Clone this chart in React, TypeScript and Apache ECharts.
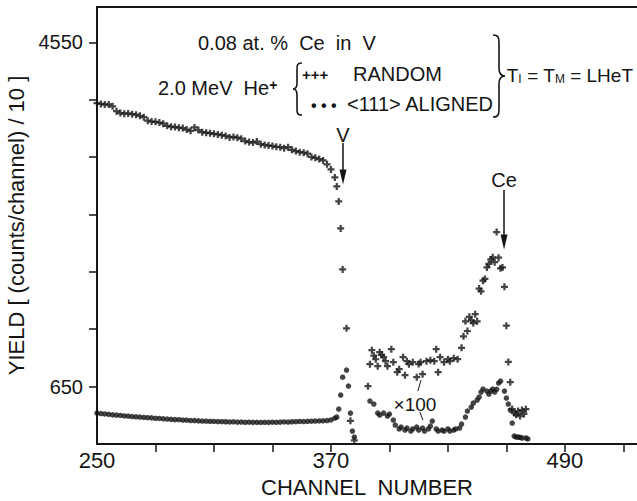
import { useEffect, useRef } from 'react';
import * as echarts from 'echarts';

const FONT = '"Liberation Sans", Arial, sans-serif';
const INK = '#151515';

// ---- axis ticks / labels ----
const xTickValues = [280, 310, 340, 370, 400, 430, 460, 490, 520];
const xLabelValues = [250, 370, 490];
const yTickValues = [650, 1300, 1950, 2600, 3250, 3900, 4550];
const yLabelValues = [650, 4550];

// ---- RANDOM spectrum (crosses) ----
const randomChannels = [
  250, 252, 254, 256, 258, 260, 262, 264, 266, 268, 270, 272, 274, 276, 278, 280,
  282, 284, 286, 288, 290, 292, 294, 296, 298, 300, 302, 304, 306, 308, 310, 312,
  314, 316, 318, 320, 322, 324, 326, 328, 330, 332, 334, 336, 338, 340, 342, 344,
  346, 348, 350, 352, 354, 356, 358, 360, 362, 364, 366, 368, 370, 372, 373, 374,
  375, 376, 378, 380, 382,
  389, 390, 391, 392, 393, 394, 395, 396, 397, 398, 399, 401, 402, 404, 405, 407,
  408, 409, 410, 412, 414, 415, 416, 417, 419, 421, 423, 424, 425, 426, 428, 430,
  431, 433, 435, 437, 438, 439, 440, 441, 442, 443, 444, 445, 446, 447, 448, 449,
  450, 451, 452, 453, 454, 455, 456, 457, 458, 459, 460, 461, 462, 463, 464, 465,
  466, 467, 468, 469, 470,
];
const randomCounts = [
  3860, 3852, 3845, 3846, 3825, 3770, 3748, 3742, 3744, 3736, 3730, 3718, 3702, 3662, 3652, 3650,
  3641, 3628, 3604, 3594, 3590, 3583, 3578, 3562, 3548, 3586, 3556, 3532, 3527, 3521, 3514, 3506,
  3498, 3490, 3472, 3478, 3470, 3458, 3432, 3420, 3414, 3426, 3396, 3388, 3380, 3376, 3366, 3362,
  3350, 3362, 3332, 3318, 3306, 3300, 3288, 3252, 3242, 3228, 3212, 3168, 3110, 3020, 2918, 2748,
  2442, 1978, 1311, 263, 40,
  655, 904, 1063, 1000, 960, 882, 1040, 1010, 983, 938, 882, 1074, 927, 814, 848, 983,
  780, 938, 904, 927, 757, 905, 927, 791, 938, 950, 938, 1074, 814, 983, 927, 961,
  938, 972, 961, 1090, 1220, 1390, 1280, 1440, 1400, 1370, 1470, 1390, 1760, 1730, 1850, 1870,
  2000, 2040, 2090, 2114, 2060, 2400, 2110, 1990, 2000, 1780, 1340, 930, 700, 396, 350, 330,
  373, 317, 384, 340, 395,
];

// ---- <111> ALIGNED spectrum (dots) ----
const alignedChannels = [
  250, 252, 254, 256, 258, 260, 262, 264, 266, 268, 270, 272, 274, 276, 278, 280,
  282, 284, 286, 288, 290, 292, 294, 296, 298, 300, 302, 304, 306, 308, 310, 312,
  314, 316, 318, 320, 322, 324, 326, 328, 330, 332, 334, 336, 338, 340, 342, 344,
  346, 348, 350, 352, 354, 356, 358, 360, 362, 364, 366, 368, 370, 372, 373, 374,
  375, 376, 378, 379, 380, 381, 382,
  390, 392, 394, 395, 397, 399, 400, 402, 403, 405, 406, 408, 409, 411, 412, 414,
  415, 417, 418, 420, 421, 422, 424, 425, 427, 428, 430, 431, 433, 434, 436, 437,
  439, 440, 442, 443, 445, 446, 447, 448, 450, 451, 452, 453, 454, 455, 456, 457,
  459, 460, 461, 462, 463, 464, 465, 466, 467, 468, 470, 471,
];
const alignedCounts = [
  350, 345, 340, 336, 330, 327, 323, 318, 316, 311, 308, 305, 301, 298, 296, 291,
  289, 285, 283, 280, 276, 275, 271, 270, 266, 265, 262, 260, 258, 257, 255, 254,
  253, 252, 250, 251, 248, 249, 246, 247, 245, 246, 244, 246, 245, 247, 246, 248,
  250, 249, 252, 253, 255, 254, 257, 258, 260, 261, 263, 266, 272, 292, 305, 396,
  554, 757, 837, 656, 350, 147, 79,
  486, 452, 350, 328, 350, 317, 339, 271, 215, 170, 192, 158, 181, 147, 170, 192,
  158, 181, 147, 170, 203, 260, 170, 147, 158, 147, 170, 147, 158, 170, 181, 226,
  305, 373, 418, 463, 497, 530, 588, 622, 599, 565, 600, 622, 588, 620, 690, 712,
  599, 520, 452, 384, 237, 90, 79, 79, 75, 68, 68, 57,
];

const randomData = randomChannels.map((c, i) => [c, randomCounts[i]]);
const alignedData = alignedChannels.map((c, i) => [c, alignedCounts[i]]);

const PLUS = 'path://M3.4,0H6.6V3.4H10V6.6H6.6V10H3.4V6.6H0V3.4H3.4Z';

echarts.graphic.registerShape(
  'lbrace',
  echarts.graphic.extendPath('M9,0 C4,0 4,2 4,7 L4,20 C4,24 3,26 0,26 C3,26 4,28 4,32 L4,45 C4,50 4,52 9,52', {})
);
echarts.graphic.registerShape(
  'rbrace',
  echarts.graphic.extendPath('M0,0 C6,0 6,3 6,10 L6,33 C6,38 8,41 12,41 C8,41 6,44 6,49 L6,72 C6,79 6,82 0,82', {})
);

const txt = (x: number, y: number, text: string, size = 20, align = 'left', extra: any = {}) => ({
  type: 'text',
  x,
  y,
  silent: true,
  style: {
    text,
    fill: INK,
    font: `${size}px ${FONT}`,
    align,
    verticalAlign: 'middle',
    textAlign: align,
    textVerticalAlign: 'middle',
    ...extra,
  },
});

const graphics: any[] = [
  txt(198, 43, '0.08 at. %  Ce  in  V'),
  txt(158, 88, '{n|2.0 MeV  He}{s|+}', 20, 'left', {
    rich: {
      n: { fontSize: 20, fontFamily: FONT, fill: INK, color: INK },
      s: { fontSize: 14, fontFamily: FONT, fill: INK, color: INK, verticalAlign: 'top', fontWeight: 'bold' },
    },
  }),
  { type: 'lbrace', x: 293, y: 63, silent: true, style: { stroke: INK, fill: 'none', lineWidth: 1.6 } },
  txt(302, 74, '+++', 15, 'left', { font: `bold 15px ${FONT}` }),
  txt(353, 74, 'RANDOM'),
  txt(311, 105, '• • •', 16, 'left', { font: `bold 16px ${FONT}` }),
  txt(347, 104, '<111> ALIGNED'),
  { type: 'rbrace', x: 493, y: 35, silent: true, style: { stroke: INK, fill: 'none', lineWidth: 1.6 } },
  txt(633, 75, '{n|T}{b|I}{n| = T}{b|M}{n| = LHeT}', 19, 'right', {
    rich: {
      n: { fontSize: 19, fontFamily: FONT, fill: INK, color: INK },
      b: { fontSize: 12, fontFamily: FONT, fill: INK, color: INK, verticalAlign: 'bottom' },
    },
  }),
  txt(343, 135, 'V', 20, 'center'),
  txt(504, 180, 'Ce', 20, 'center'),
  txt(415, 404, '×100', 19, 'center'),
];

const option: any = {
  animation: false,
  backgroundColor: '#ffffff',
  textStyle: { fontFamily: FONT, color: INK },
  grid: { left: 97, right: 0, top: 7, bottom: 57, containLabel: false, outerBoundsMode: 'none' },
  xAxis: [
    {
      type: 'value',
      min: 250,
      max: 527,
      interval: 30,
      position: 'bottom',
      axisLine: { show: true, onZero: false, lineStyle: { color: INK, width: 2 } },
      axisTick: { show: true, inside: false, length: 8, lineStyle: { color: INK, width: 1.5 }, customValues: xTickValues },
      axisLabel: {
        customValues: xLabelValues,
        formatter: (v: number) => String(v),
        fontSize: 22,
        color: INK,
        margin: 5,
        fontFamily: FONT,
      },
      splitLine: { show: false },
      name: 'CHANNEL  NUMBER',
      nameLocation: 'middle',
      nameGap: 32,
      nameTextStyle: { fontSize: 22, color: INK, fontFamily: FONT, verticalAlign: 'top' },
    },
    {
      type: 'value',
      min: 250,
      max: 527,
      position: 'top',
      axisLine: { show: true, onZero: false, lineStyle: { color: INK, width: 2 } },
      axisTick: { show: false },
      axisLabel: { show: false },
      splitLine: { show: false },
    },
  ],
  yAxis: {
    type: 'value',
    min: 0,
    max: 4950,
    interval: 650,
    axisLine: { show: true, onZero: false, lineStyle: { color: INK, width: 2 } },
    axisTick: { show: true, inside: false, length: 8, lineStyle: { color: INK, width: 1.5 }, customValues: yTickValues },
    axisLabel: {
      customValues: yLabelValues,
      formatter: (v: number) => String(v),
      fontSize: 20,
      color: INK,
      margin: 14,
      fontFamily: FONT,
    },
    splitLine: { show: false },
    name: 'YIELD [ (counts/channel) / 10 ]',
    nameLocation: 'middle',
    nameRotate: 90,
    nameGap: 67,
    nameTextStyle: { fontSize: 22, color: INK, fontFamily: FONT },
  },
  series: [
    {
      name: 'RANDOM',
      type: 'scatter',
      xAxisIndex: 0,
      symbol: PLUS,
      symbolSize: 7,
      itemStyle: { color: INK },
      data: randomData,
      markLine: {
        silent: true,
        symbol: ['none', 'triangle'],
        symbolSize: [7, 15],
        lineStyle: { color: INK, width: 1.5, type: 'solid' },
        label: { show: false },
        emphasis: { disabled: true },
        data: [
          [{ coord: [376.2, 3410] }, { coord: [376.2, 3024] }],
          [{ coord: [458.8, 2877] }, { coord: [458.8, 2288] }],
        ],
      },
    },
    {
      name: '<111> ALIGNED',
      type: 'scatter',
      xAxisIndex: 0,
      symbol: 'circle',
      symbolSize: 5.5,
      itemStyle: { color: INK },
      data: alignedData,
      markLine: {
        silent: true,
        symbol: ['none', 'none'],
        lineStyle: { color: INK, width: 1, type: 'solid' },
        label: { show: false },
        emphasis: { disabled: true },
        data: [
          [{ coord: [414.6, 599] }, { coord: [416.2, 723] }],
          [{ coord: [415.6, 362] }, { coord: [417.2, 271] }],
        ],
      },
    },
  ],
  graphic: graphics,
};

export default function App() {
  const ref = useRef<HTMLDivElement>(null);
  useEffect(() => {
    if (!ref.current) return;
    const chart = echarts.init(ref.current, null, { renderer: 'svg' });
    chart.setOption(option);
    return () => chart.dispose();
  }, []);
  return (
    <div
      ref={ref}
      style={{ position: 'absolute', left: 0, top: 0, width: 637, height: 501, background: '#fff' }}
    />
  );
}
